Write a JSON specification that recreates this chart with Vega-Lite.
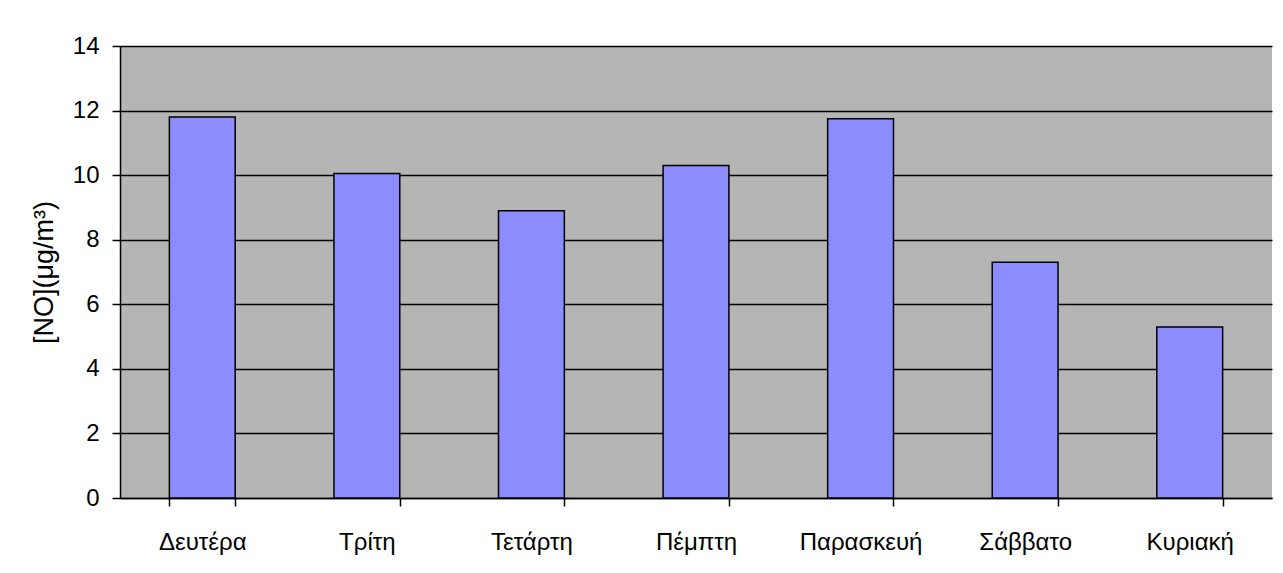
{
  "$schema": "https://vega.github.io/schema/vega-lite/v6.json",
  "width": 1152,
  "height": 452,
  "autosize": {"type": "none"},
  "padding": {"left": 120, "top": 46, "right": 11, "bottom": 75},
  "background": "white",
  "config": {
    "font": "Liberation Sans",
    "view": {"fill": "#B5B5B5", "stroke": null}
  },
  "data": {
    "values": [
      {"day": "Δευτέρα", "no": 11.8},
      {"day": "Τρίτη", "no": 10.05},
      {"day": "Τετάρτη", "no": 8.9},
      {"day": "Πέμπτη", "no": 10.3},
      {"day": "Παρασκευή", "no": 11.75},
      {"day": "Σάββατο", "no": 7.3},
      {"day": "Κυριακή", "no": 5.3}
    ]
  },
  "mark": {"type": "bar", "color": "#8C8CFF", "stroke": "black", "strokeWidth": 1.5},
  "encoding": {
    "x": {
      "field": "day",
      "type": "nominal",
      "sort": null,
      "scale": {"paddingInner": 0.6, "paddingOuter": 0.3},
      "axis": {
        "title": null,
        "labelAngle": 0,
        "labelFontSize": 24,
        "labelColor": "black",
        "labelPadding": 24,
        "tickBand": "extent",
        "tickSize": 8,
        "tickColor": "black",
        "tickWidth": 1.5,
        "domainColor": "black",
        "domainWidth": 1.5,
        "grid": false
      }
    },
    "y": {
      "field": "no",
      "type": "quantitative",
      "scale": {"domain": [0, 14], "nice": false},
      "axis": {
        "title": "[NO](μg/m³)",
        "titleFontSize": 27,
        "titleFontWeight": "normal",
        "titleColor": "black",
        "titleX": -76,
        "titleY": 226,
        "titleBaseline": "middle",
        "values": [0, 2, 4, 6, 8, 10, 12, 14],
        "labelFontSize": 24,
        "labelColor": "black",
        "labelPadding": 13,
        "tickSize": 8,
        "tickColor": "black",
        "tickWidth": 1.5,
        "domainColor": "black",
        "domainWidth": 1.5,
        "gridColor": "black",
        "gridWidth": 1.5,
        "gridOpacity": 1
      }
    }
  }
}
